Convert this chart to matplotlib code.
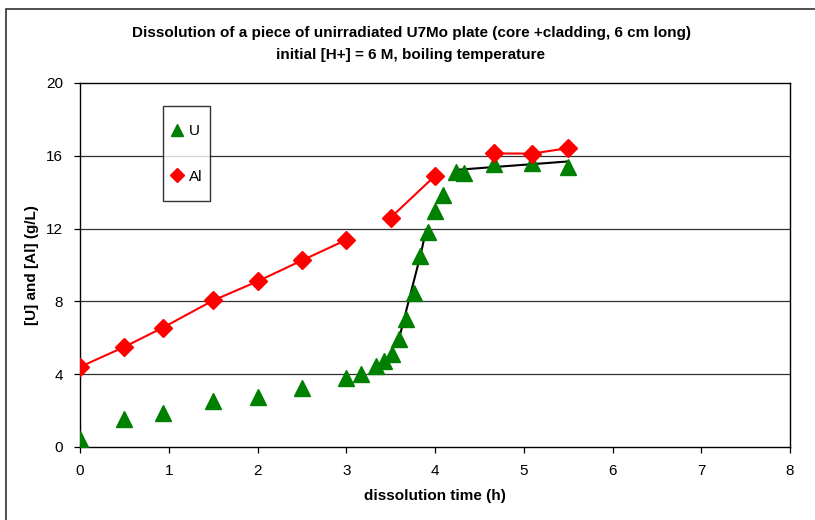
import matplotlib
matplotlib.use("Agg")
import numpy as np
import matplotlib.pyplot as plt
from matplotlib.patches import Rectangle
from matplotlib.lines import Line2D
from matplotlib.legend_handler import HandlerLine2D

plt.rcParams['font.family'] = ['Liberation Sans', 'DejaVu Sans']

# Data
al_t_1 = [0, 0.5, 0.93, 1.5, 2.0, 2.5, 3.0]
al_c_1 = [4.4, 5.5, 6.55, 8.05, 9.1, 10.25, 11.38]
al_t_2 = [3.5, 4.0]
al_c_2 = [12.6, 14.9]
al_t_3 = [4.67, 5.09, 5.5]
al_c_3 = [16.13, 16.12, 16.42]

u_t = [0, 0.5, 0.93, 1.5, 2.0, 2.5, 3.0, 3.17, 3.33, 3.42, 3.51, 3.59, 3.67,
       3.76, 3.83, 3.92, 4.0, 4.09, 4.24, 4.33, 4.67, 5.09, 5.5]
u_c = [0.44, 1.53, 1.86, 2.54, 2.74, 3.23, 3.78, 4.0, 4.45, 4.73, 5.13, 5.92, 7.05,
       8.48, 10.48, 11.8, 12.95, 13.86, 15.1, 15.05, 15.56, 15.6, 15.4]

fit1_t = [3.59, 3.66, 3.75, 3.84, 3.9]
fit1_c = [5.85, 7.2, 8.9, 10.6, 11.95]
fit2_t = [4.25, 5.5]
fit2_c = [15.23, 15.69]

x_ticks = [0, 1, 2, 3, 4, 5, 6, 7, 8]
y_ticks = [0, 4, 8, 12, 16, 20]


class ShiftedHandler(HandlerLine2D):
    def create_artists(self, legend, orig_handle, xdescent, ydescent,
                       width, height, fontsize, trans):
        arts = super().create_artists(legend, orig_handle, xdescent, ydescent,
                                      width, height, fontsize, trans)
        for a in arts:
            a.set_ydata(np.asarray(a.get_ydata(), dtype=float) - 3.8)
        return arts


fig = plt.figure(figsize=(8.15, 5.2), dpi=100)
W, H = 815, 520
ax = fig.add_axes([80 / W, 1 - 447 / H, (790 - 80) / W, (447 - 83) / H])

# figure border
fig.patches.append(Rectangle((6 / W, -0.1), 1.2, (1 - 9 / H) + 0.1,
                             transform=fig.transFigure, fill=False,
                             edgecolor='#303030', linewidth=1.2))

for yv in y_ticks[1:-1]:
    ax.axhline(yv, color='#303030', linewidth=0.9, zorder=0)

ax.plot(fit1_t, fit1_c, color='black', linewidth=1.5, zorder=2)
ax.plot(fit2_t, fit2_c, color='black', linewidth=1.5, zorder=2)

ax.plot(u_t, u_c, linestyle='none', marker='^', markersize=11,
        color='#008000', zorder=3)
for tt, cc in [(al_t_1, al_c_1), (al_t_2, al_c_2), (al_t_3, al_c_3)]:
    ax.plot(tt, cc, color='#FF0000', linewidth=1.5, marker='D', markersize=9,
            zorder=4)

ax.set_xlim(0, 8)
ax.set_ylim(0, 20)
ax.set_xticks(x_ticks)
ax.set_yticks(y_ticks)
ax.tick_params(direction='out', length=4, width=0.9, labelsize=11, pad=8)
for s in ax.spines.values():
    s.set_linewidth(1.0)

# legend
h_u = Line2D([], [], linestyle='none', marker='^', markersize=9, color='#008000')
h_al = Line2D([], [], linestyle='none', marker='D', markersize=7, color='#FF0000')
leg = ax.legend([h_u, h_al], ['U', 'Al'], loc='upper left',
                bbox_to_anchor=((163 - 80) / 710, (447 - 106) / 364),
                handler_map={Line2D: ShiftedHandler()},
                frameon=True, fancybox=False, edgecolor='black', fontsize=11,
                labelspacing=0.8, handlelength=0.8, handleheight=3.0,
                handletextpad=0.4, borderpad=0.5, borderaxespad=0)
leg.get_frame().set_linewidth(1.0)

ax.set_xlabel('dissolution time (h)', fontsize=11, fontweight='bold', labelpad=8)
ax.set_ylabel('[U] and [Al] (g/L)', fontsize=11, fontweight='bold', labelpad=5)

fig.text(411 / W, 1 - 33 / H, 'Dissolution of a piece of unirradiated U7Mo plate (core +cladding, 6 cm long)',
         ha='center', va='center', fontsize=11, fontweight='bold')
fig.text(411 / W, 1 - 55 / H, 'initial [H+] = 6 M, boiling temperature',
         ha='center', va='center', fontsize=11, fontweight='bold')

fig.savefig('out.png', dpi=100)
